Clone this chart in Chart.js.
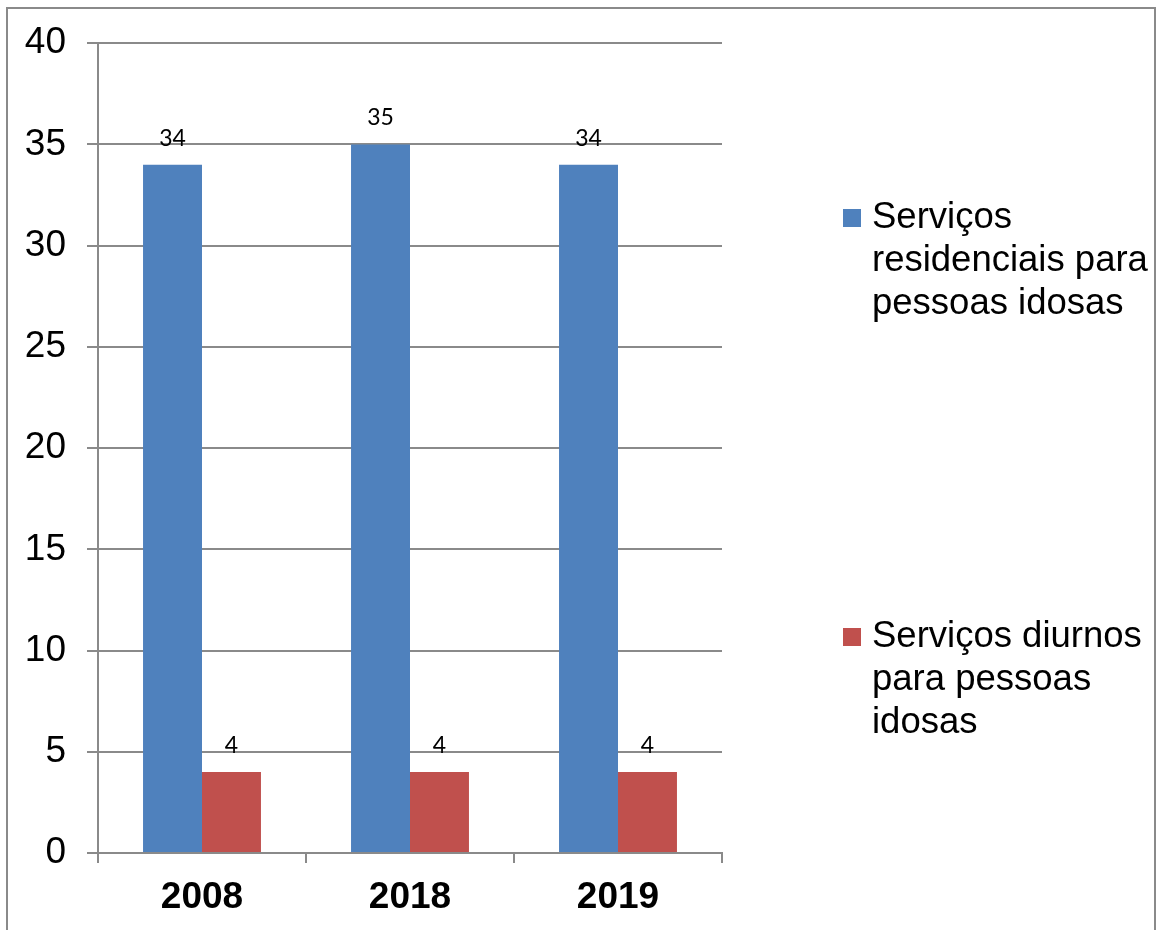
<!DOCTYPE html>
<html>
<head>
<meta charset="utf-8">
<script src="https://cdn.jsdelivr.net/npm/chart.js@4/dist/chart.umd.min.js"></script>
<style>
html,body{margin:0;padding:0;background:#fff;}
#c{display:block;}
</style>
</head>
<body>
<canvas id="c" width="1160" height="930"></canvas>
<script>
const categories = ['2008', '2018', '2019'];
const residenciais = [34, 35, 34];
const diurnos = [4, 4, 4];
const seriesNames = ['Serviços residenciais para pessoas idosas', 'Serviços diurnos para pessoas idosas'];
const seriesColors = ['#4F81BD', '#C0504D'];
const yTicks = [0, 5, 10, 15, 20, 25, 30, 35, 40];

const GRID = '#8a8a8a';
const AXIS_FONT = '"Liberation Sans", Arial, sans-serif';

const framePlugin = {
  id: 'frame',
  afterDraw(chart) {
    const ctx = chart.ctx;
    ctx.save();
    ctx.strokeStyle = '#8a8a8a';
    ctx.lineWidth = 2;
    ctx.beginPath();
    ctx.moveTo(7, 935);
    ctx.lineTo(7, 8);
    ctx.lineTo(1155, 8);
    ctx.lineTo(1155, 935);
    ctx.stroke();
    ctx.restore();
  }
};

const labelPlugin = {
  id: 'barLabels',
  afterDatasetsDraw(chart) {
    const ctx = chart.ctx;
    ctx.save();
    ctx.font = '23px Lato, "Open Sans", sans-serif';
    ctx.fillStyle = '#000';
    ctx.textAlign = 'center';
    ctx.textBaseline = 'alphabetic';
    chart.data.datasets.forEach((ds, di) => {
      const meta = chart.getDatasetMeta(di);
      meta.data.forEach((bar, i) => {
        ctx.fillText(String(ds.data[i]), bar.x, bar.y - 19);
      });
    });
    ctx.restore();
  }
};

function wrapText(ctx, text, maxW) {
  const words = text.split(' ');
  const lines = [];
  let cur = '';
  words.forEach(w => {
    const t = cur ? cur + ' ' + w : w;
    if (ctx.measureText(t).width > maxW && cur) {
      lines.push(cur);
      cur = w;
    } else {
      cur = t;
    }
  });
  if (cur) lines.push(cur);
  return lines;
}

const legendPlugin = {
  id: 'sideLegend',
  afterDraw(chart) {
    const ctx = chart.ctx;
    ctx.save();
    ctx.font = '36.5px ' + AXIS_FONT;
    ctx.textAlign = 'left';
    ctx.textBaseline = 'alphabetic';
    const firstBaselines = [228, 647];
    const lineH = 43;
    chart.data.datasets.forEach((ds, di) => {
      const lines = wrapText(ctx, ds.label, 285);
      const b0 = firstBaselines[di];
      ctx.fillStyle = ds.backgroundColor;
      ctx.fillRect(843, b0 - 19, 18, 18);
      ctx.fillStyle = '#000';
      lines.forEach((ln, li) => ctx.fillText(ln, 872, b0 + li * lineH));
    });
    ctx.restore();
  }
};

new Chart(document.getElementById('c'), {
  type: 'bar',
  data: {
    labels: categories,
    datasets: [
      { label: seriesNames[0], data: residenciais, backgroundColor: seriesColors[0] },
      { label: seriesNames[1], data: diurnos, backgroundColor: seriesColors[1] }
    ]
  },
  options: {
    responsive: false,
    animation: false,
    devicePixelRatio: 1,
    layout: { padding: { left: 0, top: 42, right: 438, bottom: 0 } },
    datasets: { bar: { categoryPercentage: 0.567, barPercentage: 1.0 } },
    plugins: { legend: { display: false }, tooltip: { enabled: false } },
    scales: {
      x: {
        offset: true,
        grid: { display: true, drawOnChartArea: false, drawTicks: true, tickLength: 10, color: GRID, lineWidth: 2, offset: true },
        border: { display: true, color: GRID, width: 2 },
        ticks: { color: '#000', font: { family: AXIS_FONT, size: 37, weight: 'bold' }, padding: 13, maxRotation: 0 },
        afterFit(scale) { scale.height = 77; }
      },
      y: {
        min: 0, max: 40,
        afterBuildTicks(scale) { scale.ticks = yTicks.map(v => ({ value: v })); },
        grid: { display: true, drawOnChartArea: true, drawTicks: true, tickLength: 11, color: GRID, lineWidth: 2 },
        border: { display: true, color: GRID, width: 2 },
        ticks: { color: '#000', font: { family: AXIS_FONT, size: 37 }, padding: 21 },
        afterFit(scale) { scale.width = 98; }
      }
    }
  },
  plugins: [labelPlugin, legendPlugin, framePlugin]
});
</script>
</body>
</html>
